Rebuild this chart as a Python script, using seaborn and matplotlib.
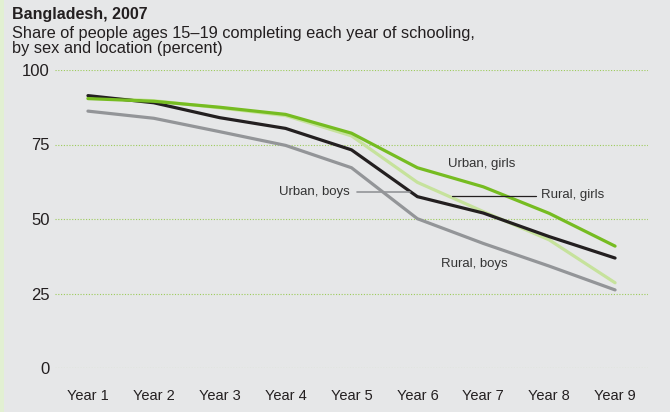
import matplotlib
matplotlib.use("Agg")
import matplotlib.pyplot as plt
from matplotlib.patches import Rectangle
import seaborn as sns
import pandas as pd

# data (percent)
years = ["Year 1", "Year 2", "Year 3", "Year 4", "Year 5", "Year 6", "Year 7", "Year 8", "Year 9"]
rural_boys = [86.2, 83.8, 79.3, 74.7, 67.2, 50.1, 41.8, 34.2, 26.2]
rural_girls = [90.7, 89.7, 87.3, 84.7, 77.9, 62.3, 52.5, 43.0, 28.6]
urban_boys = [91.4, 89.0, 84.0, 80.4, 73.2, 57.5, 52.0, 44.1, 36.9]
urban_girls = [90.4, 89.5, 87.5, 85.1, 78.8, 67.2, 60.8, 51.9, 40.9]

series = ["Rural, boys", "Rural, girls", "Urban, boys", "Urban, girls"]
colors = ["#939598", "#C6E29C", "#231F20", "#76BC21"]

df = pd.DataFrame({"year": years * 4,
                   "pos": list(range(len(years))) * 4,
                   "value": rural_boys + rural_girls + urban_boys + urban_girls,
                   "group": [s for s in series for _ in years]})

bg = "#E6E7E8"
sns.set_style("white")
plt.rcParams["font.family"] = ["Liberation Sans", "DejaVu Sans"]

fig = plt.figure(figsize=(6.7, 4.12), dpi=100, facecolor=bg)
fig.patches.append(Rectangle((0, 0), 4 / 670, 1, transform=fig.transFigure,
                             facecolor="#E2F0D2", edgecolor="none"))
ax = fig.add_axes([55 / 670, 1 - 368 / 412, (648 - 55) / 670, (368 - 70) / 412])
ax.set_facecolor(bg)

sns.lineplot(data=df, x="pos", y="value", hue="group", hue_order=series,
             palette=colors, linewidth=2.3, legend=False, ax=ax, clip_on=False)

ax.set_xlim(-0.5, 8.5)
ax.set_ylim(0, 100)
ax.set_yticks([0, 25, 50, 75, 100])
ax.set_xticks(range(len(years)))
ax.set_xticklabels(years)
ax.grid(axis="y", color="#9CCB5A", linestyle=(0, (1, 1.5)), linewidth=0.8)
ax.set_axisbelow(True)
for s in ax.spines.values():
    s.set_visible(False)
ax.tick_params(length=0, colors="#231F20")
ax.tick_params(axis="y", pad=4, labelsize=12)
ax.tick_params(axis="x", pad=15, labelsize=10.5)
ax.set_xlabel("")
ax.set_ylabel("")

# direct labels
lab = dict(fontsize=9.5, color="#333333")
ax.text(5.98, 68.4, "Urban, girls", ha="center", va="center", **lab)
ax.text(6.87, 58.0, "Rural, girls", ha="left", va="center", **lab)
ax.plot([5.52, 6.80], [57.7, 57.7], color="#231F20", linewidth=0.9)
ax.text(3.98, 59.2, "Urban, boys", ha="right", va="center", **lab)
ax.plot([4.08, 4.89], [59.1, 59.1], color="#939598", linewidth=1.2)
ax.text(5.87, 34.8, "Rural, boys", ha="center", va="center", **lab)

fig.text(12 / 670, 1 - 15 / 412, "Bangladesh, 2007", fontsize=11.5, fontweight="bold",
         color="#231F20", va="center", ha="left")
fig.text(12 / 670, 1 - 41 / 412,
         "Share of people ages 15\u201319 completing each year of schooling,\nby sex and location (percent)",
         fontsize=11.75, color="#231F20", va="center", ha="left", linespacing=1.0)

fig.savefig("out.png", dpi=100, facecolor=bg)
